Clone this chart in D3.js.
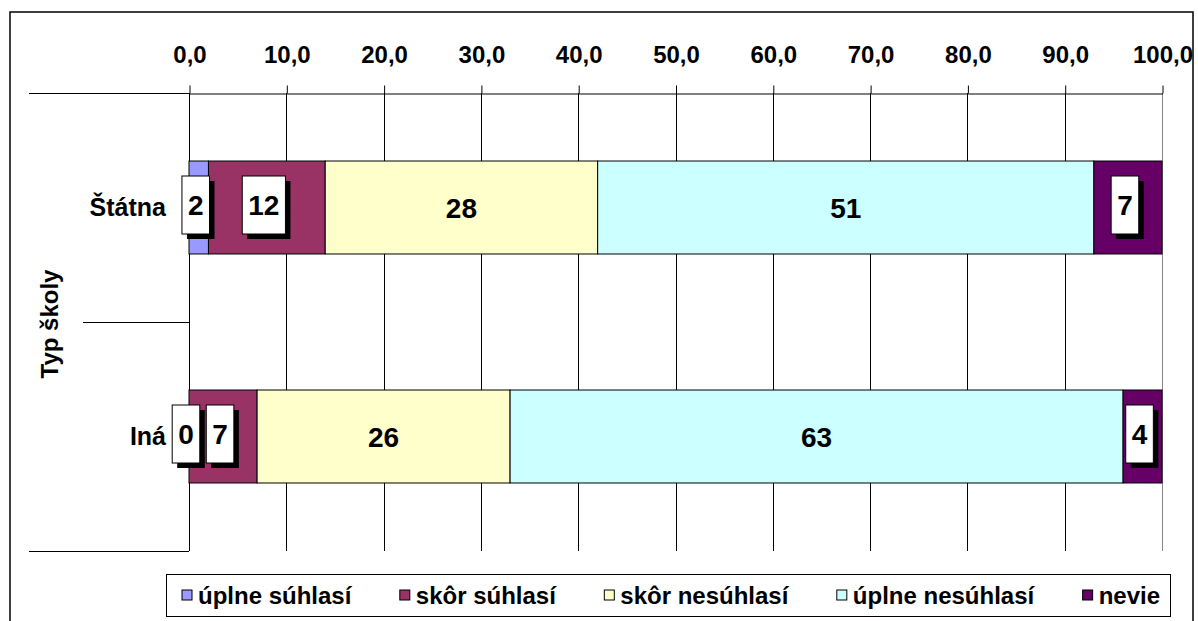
<!DOCTYPE html>
<html>
<head>
<meta charset="utf-8">
<script src="https://cdn.jsdelivr.net/npm/d3@7"></script>
<style>
  html, body { margin: 0; padding: 0; background: #fff; }
  svg { display: block; }
  text { font-family: "Liberation Sans", Arial, sans-serif; font-weight: bold; fill: #000; }
</style>
</head>
<body>
<svg id="chart" width="1198" height="621"></svg>
<script>
// ---- data ----
const titleText = "Hodnotenie podľa typu školy, (%)";
const categories = ["Štátna", "Iná"];
const categoryAxisTitle = "Typ školy";
const seriesNames = ["úplne súhlasí", "skôr súhlasí", "skôr nesúhlasí", "úplne nesúhlasí", "nevie"];
const valuesStatna = [2, 12, 28, 51, 7];
const valuesIna = [0, 7, 26, 63, 4];
const seriesColors = ["#9999FF", "#993366", "#FFFFCC", "#CCFFFF", "#660066"];
const tickValues = [0, 10, 20, 30, 40, 50, 60, 70, 80, 90, 100];
const tickLabels = ["0,0", "10,0", "20,0", "30,0", "40,0", "50,0", "60,0", "70,0", "80,0", "90,0", "100,0"];

// ---- build table ----
const table = categories.map((c, i) => {
  const vals = i === 0 ? valuesStatna : valuesIna;
  const row = { category: c };
  seriesNames.forEach((s, j) => row[s] = vals[j]);
  return row;
});

const svg = d3.select("#chart");

// outer border
svg.append("rect")
  .attr("x", 10).attr("y", 12).attr("width", 1183).attr("height", 620)
  .attr("fill", "none").attr("stroke", "#000").attr("stroke-width", 1.5);

// title, cut by the top edge as in the reference (only descenders visible)
svg.append("text")
  .attr("x", 560).attr("y", -5)
  .attr("text-anchor", "middle")
  .style("font-family", "'Liberation Serif', 'Times New Roman', serif")
  .style("font-size", "22px")
  .text(titleText);

const plotTop = 93, plotBottom = 551;
const x = d3.scaleLinear().domain([0, 100]).range([189, 1162]);
const y = d3.scaleBand().domain(categories).range([plotTop, plotBottom])
  .paddingInner(0.594).paddingOuter(0.297);

// gridlines
svg.append("g").selectAll("line").data(tickValues).join("line")
  .attr("x1", d => Math.round(x(d)) + 0.5).attr("x2", d => Math.round(x(d)) + 0.5)
  .attr("y1", plotTop).attr("y2", plotBottom)
  .attr("stroke", d => d === 100 ? "#888" : "#000").attr("stroke-width", 1);

// top axis
const axis = d3.axisTop(x).tickValues(tickValues)
  .tickFormat((d, i) => tickLabels[i]).tickSize(8).tickSizeOuter(0);
const gAxis = svg.append("g").attr("transform", `translate(0.5,${plotTop + 0.5})`).call(axis);
gAxis.select(".domain").attr("stroke", "#000");
gAxis.selectAll(".tick line").attr("stroke", "#000");
gAxis.selectAll(".tick text")
  .attr("y", -31).attr("dy", 0)
  .style("font-size", "24px").style("font-family", "'Liberation Sans', Arial, sans-serif")
  .style("font-weight", "bold").attr("fill", "#000");

// category-axis framing lines
svg.append("line").attr("x1", 29).attr("x2", 189).attr("y1", plotTop + 0.5).attr("y2", plotTop + 0.5).attr("stroke", "#000");
svg.append("line").attr("x1", 29).attr("x2", 189).attr("y1", plotBottom + 0.5).attr("y2", plotBottom + 0.5).attr("stroke", "#000");
svg.append("line").attr("x1", 83).attr("x2", 189)
  .attr("y1", Math.round(plotTop + y.step()) + 0.5).attr("y2", Math.round(plotTop + y.step()) + 0.5)
  .attr("stroke", "#000");

// stacked bars
const stack = d3.stack().keys(seriesNames);
const stacked = stack(table);

const gBars = svg.append("g");
stacked.forEach((layer, j) => {
  gBars.selectAll(null).data(layer).join("rect")
    .attr("x", d => x(d[0]))
    .attr("y", d => y(d.data.category))
    .attr("width", d => x(d[1]) - x(d[0]))
    .attr("height", y.bandwidth())
    .attr("fill", seriesColors[j])
    .attr("stroke", "#000").attr("stroke-width", 1)
    .style("display", d => (d[1] - d[0]) > 0 ? null : "none");
});

// data labels
const gLab = svg.append("g");
stacked.forEach((layer, j) => {
  layer.forEach(d => {
    const v = d[1] - d[0];
    const cx = (x(d[0]) + x(d[1])) / 2;
    const cy = y(d.data.category) + y.bandwidth() / 2;
    const label = String(v);
    const boxed = v < 15;
    if (boxed) {
      const tw = label.length * 15.6;
      const bw = tw + 12, bh = 58;
      const bx = cx - 3 - bw / 2, by = cy - 2.5 - bh / 2;
      gLab.append("rect").attr("x", bx + 5).attr("y", by + 5).attr("width", bw).attr("height", bh).attr("fill", "#000");
      gLab.append("rect").attr("x", bx).attr("y", by).attr("width", bw).attr("height", bh)
        .attr("fill", "#fff").attr("stroke", "#000").attr("stroke-width", 1);
      gLab.append("text").attr("x", cx - 3).attr("y", cy - 2.5).attr("dy", "0.36em")
        .attr("text-anchor", "middle").style("font-size", "28px").text(label);
    } else {
      gLab.append("text").attr("x", cx).attr("y", cy).attr("dy", "0.36em")
        .attr("text-anchor", "middle").style("font-size", "28px").text(label);
    }
  });
});

// category labels
svg.append("g").selectAll("text").data(categories).join("text")
  .attr("x", 166).attr("y", d => y(d) + y.bandwidth() / 2).attr("dy", "0.35em")
  .attr("text-anchor", "end").style("font-size", "25px").text(d => d);

// axis title
svg.append("text")
  .attr("transform", `translate(58,${(plotTop + plotBottom) / 2 + 2}) rotate(-90)`)
  .attr("text-anchor", "middle").style("font-size", "24px").text(categoryAxisTitle);

// legend
const legX = 166, legY = 574, legW = 1004, legH = 42;
svg.append("rect").attr("x", legX + 0.5).attr("y", legY + 0.5).attr("width", legW).attr("height", legH)
  .attr("fill", "#fff").attr("stroke", "#000");
const gLeg = svg.append("g");
const fontSize = 24;
const items = gLeg.selectAll("g").data(seriesNames).join("g");
items.append("rect").attr("width", 10).attr("height", 10)
  .attr("fill", (d, i) => seriesColors[i]).attr("stroke", "#000");
items.append("text").attr("x", 16).attr("y", 5).attr("dy", "0.36em")
  .style("font-size", fontSize + "px").text(d => d);
const widths = [];
items.each(function() { widths.push(this.getBBox().width); });
const startX = 182, endX = 1160;
const total = d3.sum(widths);
const gap = (endX - startX - total) / (seriesNames.length - 1);
let cur = startX;
items.attr("transform", (d, i) => {
  const t = `translate(${cur},${legY + 16})`;
  cur += widths[i] + gap;
  return t;
});
</script>
</body>
</html>
